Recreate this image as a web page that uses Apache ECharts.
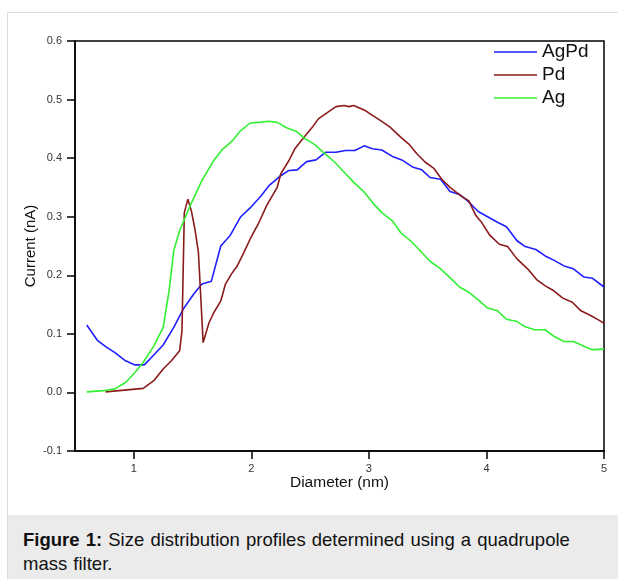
<!DOCTYPE html>
<html>
<head>
<meta charset="utf-8">
<script src="https://cdn.jsdelivr.net/npm/echarts@6/dist/echarts.min.js"></script>
<style>
  html, body { margin: 0; padding: 0; background: #fff; }
  body { width: 618px; height: 579px; position: relative; overflow: hidden; font-family: "Liberation Sans", Arial, Helvetica, sans-serif; }
  #card { position: absolute; left: 7px; top: 12px; width: 620px; height: 580px; border: 1px solid #dcdcdc; box-sizing: border-box; }
  #chart { position: absolute; left: 0; top: 0; width: 618px; height: 515px; }
  #caption { position: absolute; left: 8px; top: 515px; width: 610px; height: 64px; background: #ebebeb; box-sizing: border-box; padding: 13px 30px 0 15px; font-size: 18.5px; line-height: 24px; word-spacing: 1px; color: #111; }
</style>
</head>
<body>
<div id="card"></div>
<div id="chart"></div>
<div id="caption"><b>Figure 1:</b> Size distribution profiles determined using a quadrupole mass filter.</div>
<script>
// 数据
var agpdX = [0.60, 0.69, 0.77, 0.84, 0.93, 1.01, 1.09, 1.17, 1.25, 1.34, 1.42, 1.51, 1.58, 1.66, 1.74, 1.82, 1.91, 1.99, 2.08, 2.15, 2.25, 2.32, 2.39, 2.47, 2.55, 2.63, 2.72, 2.80, 2.88, 2.96, 3.03, 3.11, 3.20, 3.28, 3.37, 3.45, 3.52, 3.61, 3.69, 3.77, 3.84, 3.93, 4.01, 4.09, 4.17, 4.26, 4.33, 4.42, 4.50, 4.58, 4.66, 4.74, 4.83, 4.90, 5.00]
var agpdY = [0.115, 0.089, 0.077, 0.068, 0.054, 0.047, 0.047, 0.064, 0.081, 0.111, 0.142, 0.168, 0.185, 0.190, 0.250, 0.268, 0.300, 0.315, 0.335, 0.353, 0.370, 0.379, 0.380, 0.394, 0.397, 0.410, 0.410, 0.413, 0.413, 0.421, 0.416, 0.414, 0.403, 0.397, 0.385, 0.380, 0.367, 0.364, 0.343, 0.338, 0.327, 0.309, 0.300, 0.291, 0.283, 0.259, 0.249, 0.244, 0.233, 0.225, 0.216, 0.211, 0.197, 0.195, 0.180]

var pdX = [0.76, 1.08, 1.17, 1.25, 1.32, 1.39, 1.41, 1.43, 1.46, 1.49, 1.52, 1.55, 1.59, 1.64, 1.68, 1.74, 1.78, 1.83, 1.88, 1.93, 1.99, 2.06, 2.13, 2.22, 2.25, 2.32, 2.37, 2.45, 2.52, 2.57, 2.64, 2.72, 2.79, 2.83, 2.87, 2.94, 2.98, 3.03, 3.10, 3.18, 3.27, 3.34, 3.41, 3.48, 3.55, 3.62, 3.69, 3.78, 3.85, 3.91, 3.96, 4.03, 4.11, 4.18, 4.26, 4.35, 4.43, 4.50, 4.57, 4.65, 4.73, 4.80, 4.89, 4.96, 5.00]
var pdY = [0.001, 0.007, 0.020, 0.040, 0.054, 0.071, 0.105, 0.307, 0.330, 0.310, 0.279, 0.239, 0.085, 0.119, 0.136, 0.156, 0.185, 0.202, 0.216, 0.236, 0.262, 0.288, 0.319, 0.350, 0.373, 0.396, 0.416, 0.436, 0.453, 0.467, 0.477, 0.488, 0.490, 0.488, 0.490, 0.484, 0.480, 0.473, 0.464, 0.453, 0.436, 0.424, 0.407, 0.393, 0.383, 0.364, 0.350, 0.336, 0.327, 0.302, 0.290, 0.268, 0.253, 0.249, 0.228, 0.211, 0.192, 0.182, 0.174, 0.161, 0.154, 0.140, 0.131, 0.123, 0.118]

var agX = [0.60, 0.74, 0.84, 0.93, 1.01, 1.08, 1.17, 1.25, 1.30, 1.34, 1.39, 1.48, 1.58, 1.68, 1.75, 1.84, 1.91, 1.99, 2.06, 2.15, 2.22, 2.30, 2.38, 2.46, 2.54, 2.63, 2.71, 2.79, 2.87, 2.96, 3.04, 3.11, 3.20, 3.27, 3.37, 3.45, 3.52, 3.61, 3.69, 3.77, 3.85, 3.93, 4.01, 4.09, 4.17, 4.26, 4.33, 4.41, 4.50, 4.58, 4.66, 4.74, 4.83, 4.90, 5.00]
var agY = [0.001, 0.003, 0.006, 0.017, 0.034, 0.051, 0.079, 0.111, 0.173, 0.242, 0.276, 0.319, 0.362, 0.396, 0.414, 0.430, 0.447, 0.460, 0.461, 0.463, 0.461, 0.452, 0.446, 0.433, 0.423, 0.407, 0.393, 0.376, 0.359, 0.342, 0.322, 0.307, 0.293, 0.273, 0.256, 0.239, 0.224, 0.211, 0.196, 0.180, 0.171, 0.158, 0.144, 0.140, 0.125, 0.121, 0.112, 0.107, 0.107, 0.095, 0.087, 0.087, 0.079, 0.073, 0.074]

var xTicks = [1, 2, 3, 4, 5]
var seriesNames = ['AgPd', 'Pd', 'Ag']
var seriesColors = ['#1f1fff', '#8b1a1a', '#33f033']

function pairs (xs, ys) {
    var out = []
    for (var i = 0; i < xs.length; i++) {
        out.push([xs[i], ys[i]])
    }
    return out
}

var font = '"Liberation Sans", Arial, Helvetica, sans-serif'
var myChart = echarts.init(document.getElementById('chart'), null, { renderer: 'canvas' })

function lineSeries (i, data) {
    return {
        name: seriesNames[i],
        type: 'line',
        data: data,
        symbol: 'none',
        smooth: false,
        animation: false,
        lineStyle: { color: seriesColors[i], width: 1.6 },
        itemStyle: { color: seriesColors[i] }
    }
}

var option = {
    animation: false,
    grid: {
        left: 75, top: 41, width: 529, height: 410,
        show: true, borderColor: '#000', borderWidth: 1.5, backgroundColor: 'transparent'
    },
    legend: {
        orient: 'vertical',
        left: 489, top: 37,
        itemWidth: 43, itemHeight: 10, itemGap: 3,
        data: seriesNames.map(function (n, i) {
            return { name: n, icon: 'path://M0,4.2L43,4.2L43,5.8L0,5.8Z', itemStyle: { color: seriesColors[i] } }
        }),
        textStyle: { fontFamily: font, fontSize: 19, color: '#111', lineHeight: 20 },
        itemStyle: { borderWidth: 0 }
    },
    xAxis: {
        type: 'value', min: 0.5, max: 5,
        name: 'Diameter (nm)', nameLocation: 'middle', nameGap: 24, nameMoveOverlap: false,
        nameTextStyle: { fontFamily: font, fontSize: 15.5, color: '#111' },
        axisLine: { onZero: false, lineStyle: { color: '#000', width: 1.5 } },
        axisTick: { show: true, inside: false, length: 8, customValues: xTicks, lineStyle: { color: '#000', width: 1.5 } },
        axisLabel: { customValues: xTicks, margin: 12, fontFamily: font, fontSize: 11, color: '#333' },
        splitLine: { show: false }
    },
    yAxis: {
        type: 'value', min: -0.1, max: 0.6, interval: 0.1,
        name: 'Current (nA)', nameLocation: 'middle', nameGap: 37, nameMoveOverlap: false,
        nameTextStyle: { fontFamily: font, fontSize: 15, color: '#111' },
        axisLine: { show: true, onZero: false, lineStyle: { color: '#000', width: 1.5 } },
        axisTick: { show: true, inside: false, length: 8, lineStyle: { color: '#000', width: 1.5 } },
        axisLabel: { margin: 13, fontFamily: font, fontSize: 11, color: '#333', formatter: function (v) { return v.toFixed(1) } },
        splitLine: { show: false }
    },
    series: [
        lineSeries(0, pairs(agpdX, agpdY)),
        lineSeries(1, pairs(pdX, pdY)),
        lineSeries(2, pairs(agX, agY))
    ]
}
myChart.setOption(option)
</script>
</body>
</html>
